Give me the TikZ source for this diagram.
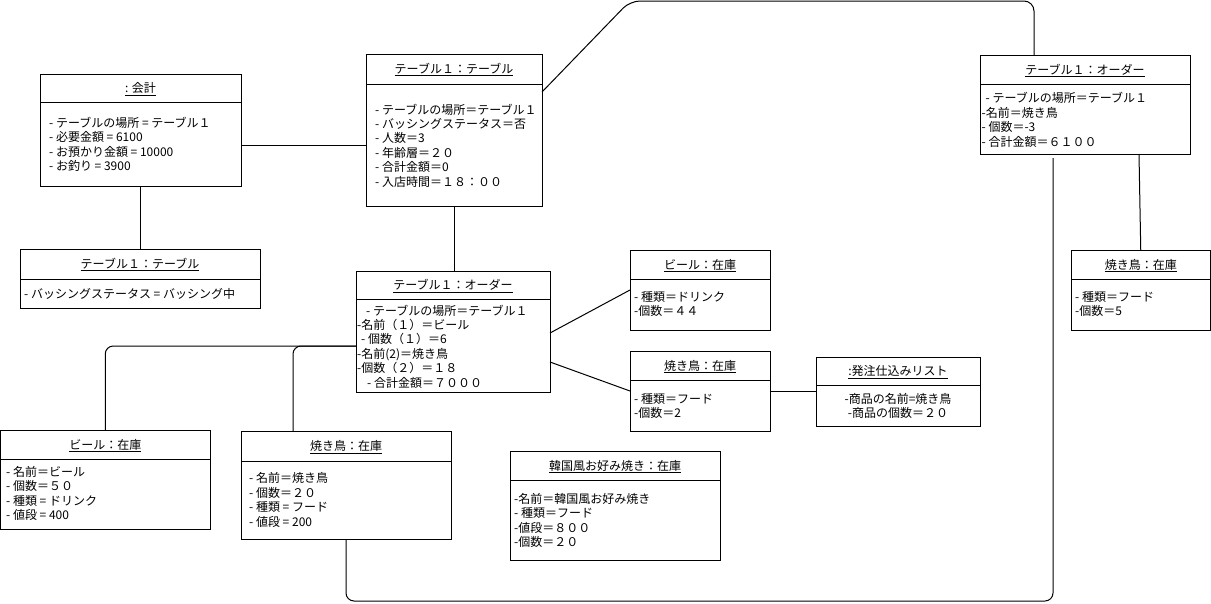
\documentclass[tikz,border=0pt]{standalone}
\usepackage{fontspec}
\setmainfont{Noto Sans CJK JP}
\tikzset{
 objbox/.style={draw, line width=1pt, inner sep=0pt, outer sep=0pt, anchor=north west},
 ttl/.style={inner sep=0pt, anchor=base, font=\fontsize{12}{14.4}\selectfont},
 bodytxt/.style={inner sep=0pt, font=\fontsize{12}{14.4}\selectfont},
 link/.style={draw, line width=1pt, rounded corners=8pt},
}
% name, x1, y1, x2, y2, separator y, title
\newcommand\umlobj[7]{%
 \node[objbox, minimum width={#4-#2}, minimum height={#5-#3}] (#1) at (#2,#3) {};
 \draw[line width=1pt] (#2,#6) -- (#4,#6);
 \node[ttl] (#1-t) at ({(#2+#4)/2},{(#3+#6)/2+4.5}) {\underline{#7}};
}
% name, x, first line centre y, anchor, lines
\newcommand\umllines[5]{%
 \foreach \t [count=\i] in {#5} {\node[bodytxt, anchor=#4] (#1-\i) at (#2,{#3+4.5+(\i-1)*14.4}) {\t};}
}
\begin{document}
\begin{tikzpicture}[x=1pt, y=-1pt]
\useasboundingbox (0,0) rectangle (1211,603);

\umlobj{kai}{40}{74}{241}{186}{102}{: 会計}
\umllines{kaib}{49}{123}{base west}{{- テーブルの場所 = テーブル１},{- 必要金額 = 6100},{- お預かり金額 = 10000},{- お釣り = 3900}}

\umlobj{tblB}{20}{249}{260}{308}{279}{テーブル１：テーブル}
\umllines{tblBb}{24}{294}{base west}{{- バッシングステータス = バッシング中}}

\umlobj{tblC}{366}{54}{542}{206}{84}{テーブル１：テーブル}
\umllines{tblCb}{375}{109.5}{base west}{{- テーブルの場所＝テーブル１},{- バッシングステータス＝否},{- 人数＝3},{- 年齢層＝２０},{- 合計金額＝0},{- 入店時間＝１８：００}}

\umlobj{ordC}{356}{271}{550}{392}{299.5}{テーブル１：オーダー}
\umllines{ordCb}{357}{310.6}{base west}{{\hspace*{9pt}- テーブルの場所＝テーブル１},{-名前（１）＝ビール},{\hspace*{4pt}- 個数（１）＝6},{-名前(2)＝焼き鳥},{-個数（２）＝１８},{\hspace*{10pt}- 合計金額＝７０００}}

\umlobj{ordR}{980}{55}{1190}{154}{84}{テーブル１：オーダー}
\umllines{ordRb}{981.5}{98.4}{base west}{{\hspace*{4pt}- テーブルの場所＝テーブル１},{-名前＝焼き鳥},{- 個数＝-3},{- 合計金額＝６１００}}

\umlobj{beerM}{630}{250}{770}{330}{279}{ビール：在庫}
\umllines{beerMb}{634}{297}{base west}{{- 種類＝ドリンク},{-個数＝４４}}

\umlobj{yakiM}{630}{351}{770}{431}{380}{焼き鳥：在庫}
\umllines{yakiMb}{634}{398.5}{base west}{{- 種類＝フード},{-個数＝2}}

\umlobj{hatchu}{816}{357}{980}{426}{385}{:発注仕込みリスト}
\umllines{hatchub}{898}{398.5}{base}{{-商品の名前=焼き鳥},{-商品の個数＝２０}}

\umlobj{yakiR}{1071}{250}{1210.5}{330}{279}{焼き鳥：在庫}
\umllines{yakiRb}{1075}{297}{base west}{{- 種類＝フード},{-個数＝5}}

\umlobj{beerL}{0.5}{430}{210}{529}{459}{ビール：在庫}
\umllines{beerLb}{6}{472}{base west}{{- 名前＝ビール},{- 個数＝５０},{- 種類 = ドリンク},{- 値段 = 400}}

\umlobj{yakiB}{241}{431}{451}{539}{461}{焼き鳥：在庫}
\umllines{yakiBb}{249}{478.4}{base west}{{- 名前＝焼き鳥},{- 個数＝２０},{- 種類 = フード},{- 値段 = 200}}

\umlobj{kan}{510}{451}{720}{560}{480}{韓国風お好み焼き：在庫}
\umllines{kanb}{514}{498.8}{base west}{{-名前＝韓国風お好み焼き},{- 種類＝フード},{-値段＝８００},{-個数＝２０}}

% connectors
\draw[link] ([yshift=-15pt]kai.east) -- ([yshift=-15pt]tblC.west);
\draw[link] (kai.south) -- (kai.south |- tblB.north);
\draw[link] (tblC.south) -- (tblC.south |- ordC.north);
\draw[link, rounded corners=10pt] ([yshift=-38pt]tblC.north east) -- (630,1) -- (1034,1) -- ([xshift=-51pt]ordR.north);
\draw[link] ([xshift=54pt]ordR.south) -- (yakiR.north);
\coordinate (freeR) at (1053,158);
\draw[link] (yakiB.south) -- (yakiB.south |- 0,601) -- (1053,601) -- (freeR);
\draw[link] ([yshift=-1.5pt]ordC.east) -- (beerM.west);
\draw[link] ([yshift=-30.5pt]ordC.east) -- (yakiM.west);
\draw[link] (yakiM.east) -- (yakiM.east -| hatchu.west);
\draw[link] ([yshift=-14.5pt]ordC.west) -- (beerL.north |- 0,346) -- (beerL.north);
\draw[link] ([xshift=-53pt]yakiB.north) -- (293,346) -- ([yshift=-14.5pt]ordC.west);
\end{tikzpicture}
\end{document}
